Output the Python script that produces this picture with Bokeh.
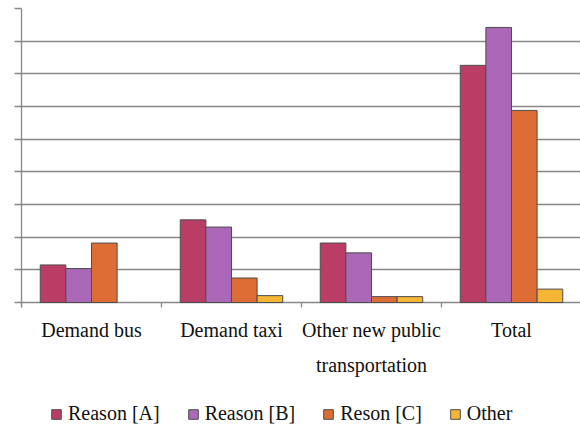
from bokeh.plotting import figure
from bokeh.models import Range1d, FixedTicker, Legend, LegendItem, ColumnDataSource
from bokeh.core.properties import value
from bokeh.embed import file_html
from bokeh.resources import INLINE

categories = ["Demand bus", "Demand taxi", "Other new public\ntransportation", "Total"]
series_names = ["Reason [A]", "Reason [B]", "Reson [C]", "Other"]
reason_a = [11.5, 25.3, 18.2, 72.6]
reason_b = [10.4, 23.1, 15.2, 84.2]
reason_c = [18.2, 7.5, 1.8, 58.8]
other = [float("nan"), 2.1, 1.8, 4.1]
series = [reason_a, reason_b, reason_c, other]
colors = ["#B93D64", "#AB67B8", "#DE6D35", "#F7B535"]
y_ticks = list(range(0, 91, 10))

FONT = "Liberation Serif"
GRID = "#878787"
TXT = "#111111"
bar_w = 0.183

# layout in pixels
W, H = 580, 424
LEFT, TOP = 21, 8
AXIS_Y = 302                      # pixel row of the value 0
px_per_unit = (AXIS_Y - TOP) / 90
y_min = -(H - AXIS_Y) / px_per_unit
cat_px = 140

p = figure(width=W, height=H, output_backend="svg", toolbar_location=None,
           x_range=Range1d(0, (W - LEFT) / cat_px), y_range=Range1d(y_min, 90),
           x_axis_location=None,
           min_border_left=LEFT, min_border_right=0, min_border_top=TOP, min_border_bottom=0)
p.outline_line_color = None
p.background_fill_color = "white"
p.border_fill_color = "white"

# grid (only at the value ticks)
p.ygrid.ticker = FixedTicker(ticks=y_ticks)
p.ygrid.grid_line_color = GRID
p.ygrid.grid_line_width = 1.3
p.xgrid.grid_line_color = None

items = []
for k, (vals, name, col) in enumerate(zip(series, series_names, colors)):
    xs = [i + 0.5 + (k - 1.5) * bar_w for i in range(len(categories))]
    src = ColumnDataSource(dict(x=xs, top=vals))
    r = p.vbar(x="x", top="top", bottom=0, width=bar_w, source=src,
               fill_color=col, line_color="#4d4d4d", line_width=1)
    items.append(LegendItem(label=name, renderers=[r]))

# category boundary ticks below the axis line
tick_len = 5 / px_per_unit
bounds = list(range(len(categories) + 1))
p.segment(x0=bounds, y0=[0] * len(bounds), x1=bounds, y1=[-tick_len] * len(bounds),
          line_color=GRID, line_width=1.3)

# category labels
centers = [i + 0.5 for i in range(len(categories))]
p.text(x=centers, y=[0] * len(centers), text=categories, text_align="center",
       text_baseline="top", y_offset=16, text_font=value(FONT), text_font_size="20px",
       text_color=TXT, text_line_height=1.6)

# y axis (no labels)
p.yaxis.ticker = FixedTicker(ticks=y_ticks)
p.yaxis.bounds = (-tick_len, 90)
p.yaxis.major_label_overrides = {t: "" for t in y_ticks}
p.yaxis.major_label_standoff = 0
p.yaxis.major_tick_out = 7
p.yaxis.major_tick_in = 0
p.yaxis.minor_tick_out = 0
p.yaxis.minor_tick_in = 0
p.yaxis.axis_line_color = GRID
p.yaxis.axis_line_width = 1.3
p.yaxis.major_tick_line_color = GRID
p.yaxis.major_tick_line_width = 1.3

legend = Legend(items=items, orientation="horizontal", location=(29, -1),
                glyph_width=12, glyph_height=12, label_standoff=6, spacing=27,
                padding=0, margin=0, border_line_color=None, background_fill_alpha=0,
                label_text_font=FONT, label_text_font_size="20px", label_text_color=TXT)
p.add_layout(legend, "center")

open("out.html", "w").write(file_html(p, INLINE))
